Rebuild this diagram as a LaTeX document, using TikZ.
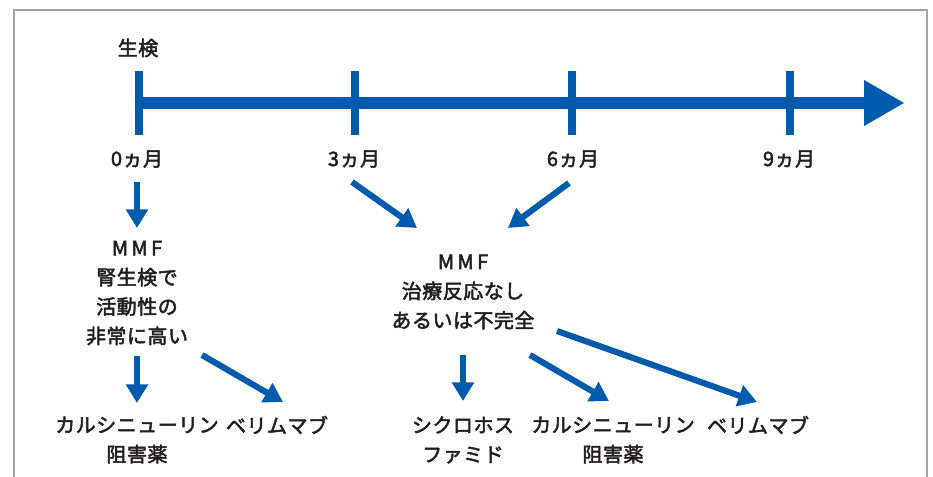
\documentclass[tikz,border=0pt]{standalone}
\usepackage{fontspec}
\setmainfont{Noto Sans CJK JP}[FakeBold=2.5,LetterSpace=2.5]
\usetikzlibrary{arrows.meta}
\definecolor{tlblue}{HTML}{005BAC}
\definecolor{txtc}{HTML}{231F20}
\definecolor{framec}{HTML}{A0A4A8}
\begin{document}
\begin{tikzpicture}[x=0.75pt,y=-0.75pt,
  lbl/.style={text=txtc,font=\fontsize{15}{22}\selectfont,align=center,inner sep=0pt},
  arr/.style={draw=tlblue,line width=4.6pt,-{Triangle[width=16pt,length=14pt]}},
  tickmark/.style={draw=tlblue,line width=6pt}]
\useasboundingbox (0,0) rectangle (933,477);
\draw[framec,line width=1.1pt] (14,477) -- (14,10) -- (927,10) -- (927,477);
% timeline
\fill[tlblue] (139,96.7) rectangle (866,109.3);
\fill[tlblue] (864,80) -- (904,103) -- (864,126) -- cycle;
\draw[tickmark] (139,71) -- (139,135);
\draw[tickmark] (355,71) -- (355,135);
\draw[tickmark] (572,71) -- (572,135);
\draw[tickmark] (790,71) -- (790,135);
% labels
\node[lbl] (biopsy) at (138,48) {生検};
\node[lbl] (m0) at (137,159) {0ヵ月};
\node[lbl] (m3) at (354,159) {3ヵ月};
\node[lbl] (m6) at (573,159) {6ヵ月};
\node[lbl] (m9) at (789,159) {9ヵ月};
\node[lbl] (left) at (137,293) {M\,M\,F\\腎生検で\\活動性の\\非常に高い};
\node[lbl] (mid) at (463,292) {M\,M\,F\\治療反応なし\\あるいは不完全};
\node[lbl] (cni1) at (137,440) {カルシニューリン\\阻害薬};
\node[lbl] (bel1) at (277,425) {ベリムマブ};
\node[lbl] (cyc) at (463,440) {シクロホス\\ファミド};
\node[lbl] (cni2) at (613,440) {カルシニューリン\\阻害薬};
\node[lbl] (bel2) at (758,425) {ベリムマブ};
% connector end points
\coordinate (a1s) at (137,182); \coordinate (a1e) at (137,228);
\coordinate (a2s) at (352,182); \coordinate (a2e) at (417,228);
\coordinate (a3s) at (569,183); \coordinate (a3e) at (508,228);
\coordinate (a4s) at (137,356); \coordinate (a4e) at (137,403);
\coordinate (a5s) at (202,355); \coordinate (a5e) at (283,402);
\coordinate (a6s) at (463,355); \coordinate (a6e) at (463,401);
\coordinate (a7s) at (530,355); \coordinate (a7e) at (609,401);
\coordinate (a8s) at (557,331); \coordinate (a8e) at (757,402);
\draw[arr] (a1s) -- (a1e);
\draw[arr] (a2s) -- (a2e);
\draw[arr] (a3s) -- (a3e);
\draw[arr] (a4s) -- (a4e);
\draw[arr] (a5s) -- (a5e);
\draw[arr] (a6s) -- (a6e);
\draw[arr] (a7s) -- (a7e);
\draw[arr] (a8s) -- (a8e);
\end{tikzpicture}
\end{document}
